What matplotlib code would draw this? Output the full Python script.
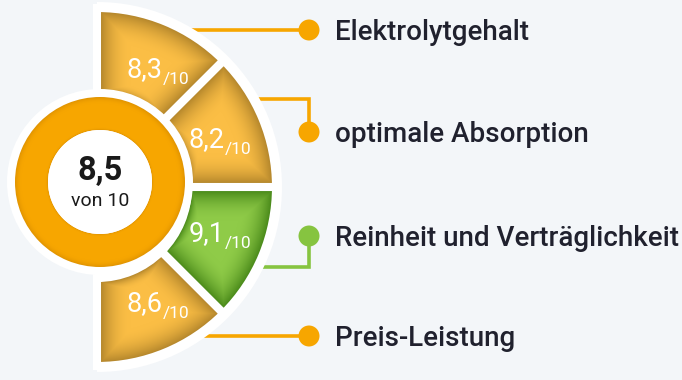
import matplotlib.pyplot as plt
import numpy as np
from matplotlib.colors import to_rgb
from matplotlib.patches import Circle, Wedge

categories = [
    "Elektrolytgehalt",
    "optimale Absorption",
    "Reinheit und Verträglichkeit",
    "Preis-Leistung",
]
scores = [8.3, 8.2, 9.1, 8.6]
overall = 8.5
max_score = 10

W, H = 682, 380
BG = "#F3F6F9"
ORANGE = "#F7A600"
GREEN = "#86C440"
TEXT = "#20212E"

plt.rcParams["font.family"] = ["Roboto", "DejaVu Sans"]


def py(y):
    # pixel row (from top) -> data y
    return H - y


def fmt(v):
    return f"{v:.1f}".replace(".", ",")


def shaded(ax, cx, cy, r_in, r_out, t1, t2, light, dark, clip, inset=4, soft=30, z=3):
    x0, x1 = cx - r_out - 6, cx + r_out + 6
    y0, y1 = cy - r_out - 6, cy + r_out + 6
    X, Y = np.meshgrid(np.arange(x0, x1) + 0.5, np.arange(y0, y1) + 0.5)
    r = np.hypot(X - cx, Y - cy)
    a = np.arctan2(Y - cy, X - cx)
    parts = [r_out - inset - r, (r - r_in - inset) * 2.5]
    if t2 - t1 < 360:
        parts.append(r * np.sin(a - np.radians(t1)) - inset)
        parts.append(r * np.sin(np.radians(t2) - a) - inset)
    d = np.minimum.reduce(parts)
    t = np.clip(d / soft, 0, 1)
    t = t * (2 - t)
    light, dark = np.array(to_rgb(light)), np.array(to_rgb(dark))
    img = dark * (1 - t[..., None]) + light * t[..., None]
    im = ax.imshow(img, extent=(x0, x1, y0, y1), origin="lower",
                   interpolation="bilinear", zorder=z)
    im.set_clip_path(clip)


fig = plt.figure(figsize=(W / 100, H / 100), dpi=100)
fig.patch.set_facecolor(BG)
ax = fig.add_axes([0, 0, 1, 1])
ax.set_facecolor(BG)

# half disc of wedges
cx, cy = 97, py(187)
r_in, r_out = 91, 179
n = len(scores)
step = 180 / n
best = int(np.argmax(scores))

ax.add_patch(Wedge((cx, cy), 185, -90, 90, facecolor="white", edgecolor="none", zorder=2))

label_x = 335
dot_x = 309
label_y = [30, 132, 236, 336]
anchor_y = [30, 99, 267, 336]

for i, (name, s) in enumerate(zip(categories, scores)):
    t2 = 90 - i * step
    t1 = t2 - step
    if i == best:
        light, dark, line_c = "#8FCB48", "#4A8A1A", GREEN
    else:
        light, dark, line_c = "#FBBE45", "#B5872C", ORANGE
    wedge = Wedge((cx, cy), r_out, t1, t2, width=r_out - r_in, facecolor="none",
                  edgecolor="white", linewidth=5.8, joinstyle="miter", zorder=4)
    ax.add_patch(wedge)
    shaded(ax, cx, cy, r_in, r_out, t1, t2, light, dark, wedge)

    # score label inside the wedge
    ang = np.radians((t1 + t2) / 2 * 0.92)
    tx = cx + 132 * np.cos(ang)
    ty = cy + 132 * np.sin(ang)
    ax.text(tx + 4, ty - 7, fmt(s), color="white", fontsize=19.5, ha="right",
            va="baseline", zorder=6)
    ax.text(tx + 4, ty - 14, f"/{max_score}", color="white", fontsize=12.5,
            ha="left", va="baseline", zorder=6)

    # leader line, dot and category text
    ay, ly = py(anchor_y[i]), py(label_y[i])
    ax.plot([cx + 40, dot_x, dot_x], [ay, ay, ly], color=line_c, lw=2.6,
            solid_joinstyle="miter", zorder=1)
    ax.add_patch(Circle((dot_x, ly), 10.5, facecolor=line_c, edgecolor="none", zorder=6))
    ax.text(label_x, ly - 9.5, name, color=TEXT, fontsize=20, fontweight="medium",
            ha="left", va="baseline", zorder=6)

# overall score donut
dx, dy = 100, py(182)
ax.add_patch(Circle((dx, dy), 93, facecolor="white", edgecolor="none", zorder=5))
ring = Wedge((dx, dy), 85, 0, 360, width=33, facecolor="none", edgecolor="none", zorder=5)
ax.add_patch(ring)
shaded(ax, dx, dy, 52, 85, 0, 360, ORANGE, "#E09300", ring, inset=0, soft=7, z=5)
ax.add_patch(Circle((dx, dy), 52, facecolor="white", edgecolor="none", zorder=6))
ax.text(dx, py(180), fmt(overall), color="#1A1A1A", fontsize=23.5, fontweight="bold",
        ha="center", va="baseline", zorder=7)
ax.text(dx, py(206), f"von {max_score}", color="#1A1A1A", fontsize=14,
        ha="center", va="baseline", zorder=7)

ax.set_xlim(0, W)
ax.set_ylim(0, H)
ax.set_aspect("equal")
ax.axis("off")
fig.savefig("out.png", dpi=100, facecolor=BG)
